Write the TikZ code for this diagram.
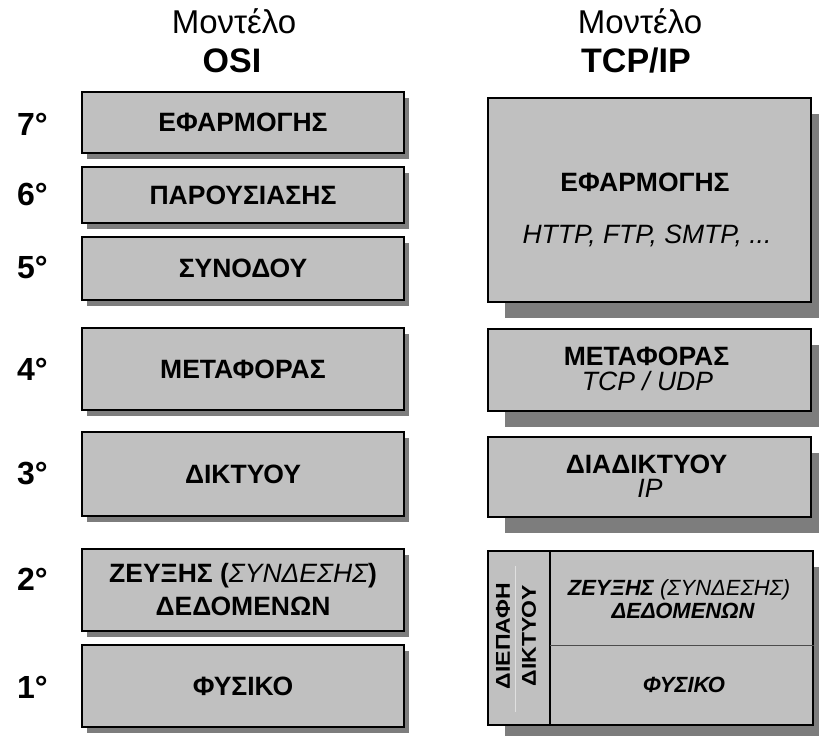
\documentclass[tikz,border=0pt]{standalone}
\usepackage{fontspec}
\setmainfont{Liberation Sans}
\usetikzlibrary{shadows}

\definecolor{boxgray}{RGB}{192,192,192}
\definecolor{shadowgray}{RGB}{125,125,125}

\tikzset{
  layer/.style={draw=black, line width=1.4pt, fill=boxgray, inner sep=0pt, align=center},
  osibox/.style={layer, minimum width=322pt,
    font=\fontsize{26.5}{33}\selectfont\bfseries,
    drop shadow={shadow xshift=5pt, shadow yshift=-6pt, fill=shadowgray, opacity=1}},
  tcpbox/.style={layer, minimum width=323pt,
    drop shadow={shadow xshift=17pt, shadow yshift=-16pt, fill=shadowgray, opacity=1}},
  head/.style={inner sep=0pt, anchor=base, font=\fontsize{33}{36}\selectfont},
  headb/.style={head, font=\fontsize{34}{36}\selectfont\bfseries},
  num/.style={inner sep=0pt, anchor=west, font=\fontsize{32}{36}\selectfont\bfseries},
  tname/.style={inner sep=0pt, anchor=base, font=\fontsize{26.5}{30}\selectfont\bfseries},
  tproto/.style={inner sep=0pt, anchor=base, font=\fontsize{26.5}{30}\selectfont\itshape},
  nname/.style={inner sep=0pt, anchor=base, font=\fontsize{22}{26}\selectfont\bfseries\itshape},
  side/.style={inner sep=0pt, align=center, rotate=90, font=\fontsize{20}{26}\selectfont\bfseries},
}

\begin{document}
\begin{tikzpicture}[x=1pt,y=-1pt]
\useasboundingbox (0,0) rectangle (819,736);
\clip (0,0) rectangle (819,736);

% column headings
\node[head]  (hosia) at (234,33) {Μοντέλο};
\node[headb] (hosib) at (232,72) {OSI};
\node[head]  (htcpa) at (640,33) {Μοντέλο};
\node[headb] (htcpb) at (636,72) {TCP/IP};

% OSI layers
\node[osibox, minimum height=61pt] (o7) at (243,122.5) {ΕΦΑΡΜΟΓΗΣ};
\node[osibox, minimum height=56pt] (o6) at (243,195)   {ΠΑΡΟΥΣΙΑΣΗΣ};
\node[osibox, minimum height=63pt] (o5) at (243,268.5) {ΣΥΝΟΔΟΥ};
\node[osibox, minimum height=82pt] (o4) at (243,369)   {ΜΕΤΑΦΟΡΑΣ};
\node[osibox, minimum height=84pt] (o3) at (243,474)   {ΔΙΚΤΥΟΥ};
\node[osibox, minimum height=82pt] (o2) at (243,590)   {ΖΕΥΞΗΣ ({\mdseries\itshape ΣΥΝΔΕΣΗΣ})\\ ΔΕΔΟΜΕΝΩΝ};
\node[osibox, minimum height=82pt] (o1) at (243,686)   {ΦΥΣΙΚΟ};

% layer numbers
\node[num] (n7) at (17,124) {7°};
\node[num] (n6) at (17,194) {6°};
\node[num] (n5) at (17,268) {5°};
\node[num] (n4) at (17,369) {4°};
\node[num] (n3) at (17,474) {3°};
\node[num] (n2) at (17,579) {2°};
\node[num] (n1) at (17,687) {1°};

% TCP/IP layers
\node[tcpbox, minimum height=204pt] (t4) at (649.5,200) {};
\node[tcpbox, minimum height=82pt]  (t3) at (649.5,370) {};
\node[tcpbox, minimum height=80pt]  (t2) at (649.5,477) {};
\node[tcpbox, minimum height=174pt, minimum width=325pt] (t1) at (650.5,638) {};

\node[tname]  (t4a) at (645,191) {ΕΦΑΡΜΟΓΗΣ};
\node[tproto] (t4b) at (647,243) {HTTP, FTP, SMTP, ...};
\node[tname]  (t3a) at (646.5,365) {ΜΕΤΑΦΟΡΑΣ};
\node[tproto] (t3b) at (647.5,390) {TCP / UDP};
\node[tname]  (t2a) at (646.5,473) {ΔΙΑΔΙΚΤΥΟΥ};
\node[tproto] (t2b) at (650,497) {IP};

% network access layer, split into its parts
\coordinate (split) at (550,645);
\draw[line width=1.3pt] (split |- t1.north) -- (split |- t1.south);
\draw[line width=0.8pt, black!70] (split) -- (split -| t1.east);
\draw[line width=0.6pt, white!88!black] (515,566) -- (515,712);
\node[side] (t1side) at (516,636) {\scalebox{1.15}[1]{ΔΙΕΠΑΦΗ}\\\scalebox{1.15}[1]{ΔΙΚΤΥΟΥ}};
\node[nname] (t1a) at (679,595) {ΖΕΥΞΗΣ {\mdseries(ΣΥΝΔΕΣΗΣ)}};
\node[nname] (t1b) at (683,618) {ΔΕΔΟΜΕΝΩΝ};
\node[nname] (t1c) at (684,692) {ΦΥΣΙΚΟ};
\end{tikzpicture}
\end{document}
